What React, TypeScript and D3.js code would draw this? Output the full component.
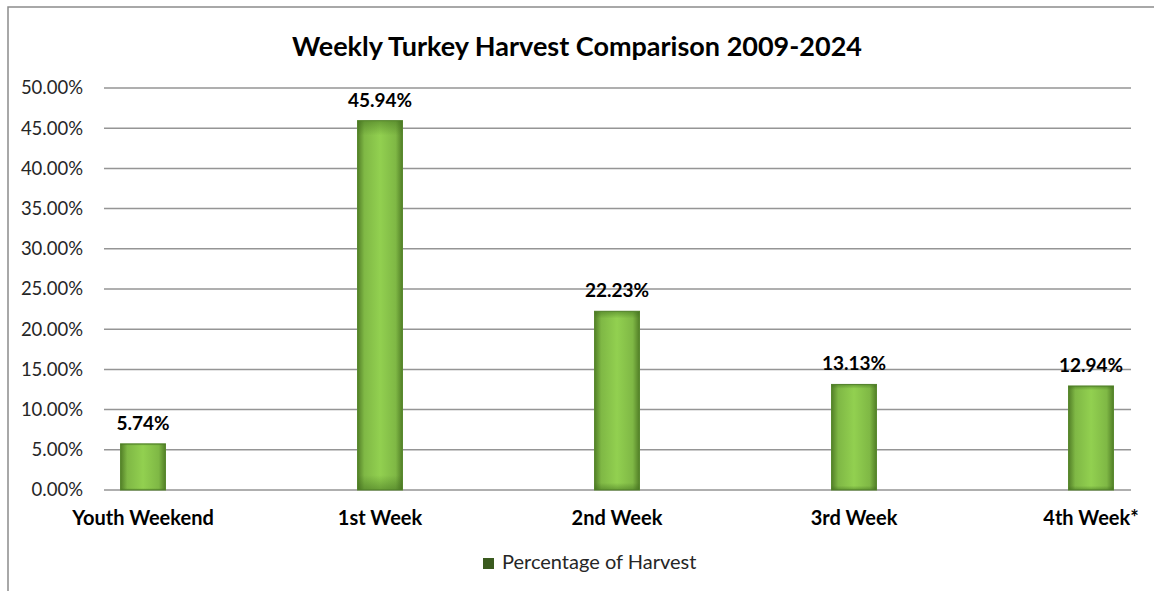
import React from "react";
import * as d3 from "d3";

const categories = ["Youth Weekend", "1st Week", "2nd Week", "3rd Week", "4th Week*"];
const values = [5.74, 45.94, 22.23, 13.13, 12.94];
const yTicks = [0, 5, 10, 15, 20, 25, 30, 35, 40, 45, 50];
const seriesName = "Percentage of Harvest";
const title = "Weekly Turkey Harvest Comparison 2009-2024";

const W = 1154;
const H = 591;
const FONT = "Lato, 'Open Sans', sans-serif";

export default function App() {
  const plotLeft = 104;
  const plotRight = 1131;
  const y = d3.scaleLinear().domain([0, 50]).range([490, 88]);
  const x = d3.scalePoint<string>().domain(categories).range([143, 1091]);
  const barW = 45;

  return (
    <svg
      width={W}
      height={H}
      style={{ position: "absolute", left: 0, top: 0, background: "#fff" }}
      fontFamily={FONT}
    >
      <defs>
        <linearGradient id="gh" x1="0" x2="1" y1="0" y2="0">
          <stop offset="0" stopColor="#527f27" />
          <stop offset="0.15" stopColor="#7fb845" />
          <stop offset="0.5" stopColor="#92d050" />
          <stop offset="0.85" stopColor="#7fb845" />
          <stop offset="1" stopColor="#527f27" />
        </linearGradient>
        <linearGradient id="gv" x1="0" x2="0" y1="0" y2="1">
          <stop offset="0" stopColor="#3d6b1c" stopOpacity="0.5" />
          <stop offset="0.04" stopColor="#3d6b1c" stopOpacity="0" />
          <stop offset="0.96" stopColor="#3d6b1c" stopOpacity="0" />
          <stop offset="1" stopColor="#3d6b1c" stopOpacity="0.5" />
        </linearGradient>
      </defs>
      <rect x={8} y={7} width={W + 10} height={H + 10} fill="#fff" stroke="#8c8c8c" strokeWidth={1.5} />
      <text x={577} y={56} textAnchor="middle" fontSize={27} fontWeight="bold" fill="#000">
        {title}
      </text>
      {yTicks.map((t) => (
        <g key={t}>
          <line x1={plotLeft} x2={plotRight} y1={y(t)} y2={y(t)} stroke="#959595" strokeWidth={1.5} />
          <text x={83} y={y(t)} dy="0.35em" textAnchor="end" fontSize={18.5} fill="#262626">
            {t.toFixed(2) + "%"}
          </text>
        </g>
      ))}
      {categories.map((c, i) => {
        const cx = x(c) as number;
        const top = y(values[i]);
        const h = y(0) - top;
        return (
          <g key={c}>
            <rect x={cx - barW / 2} y={top} width={barW} height={h} fill="url(#gh)" stroke="#5a8a30" strokeWidth={1} />
            <rect x={cx - barW / 2} y={top} width={barW} height={h} fill="url(#gv)" />
            <text x={cx} y={top - 14} textAnchor="middle" fontSize={19} fontWeight="bold" fill="#000">
              {values[i].toFixed(2) + "%"}
            </text>
            <text x={cx} y={525} textAnchor="middle" fontSize={20} fontWeight="bold" fill="#000">
              {c}
            </text>
          </g>
        );
      })}
      <rect x={483} y={558} width={11} height={11} fill="#3a5a1e" />
      <text x={502} y={569} fontSize={20} fill="#262626">
        {seriesName}
      </text>
    </svg>
  );
}
